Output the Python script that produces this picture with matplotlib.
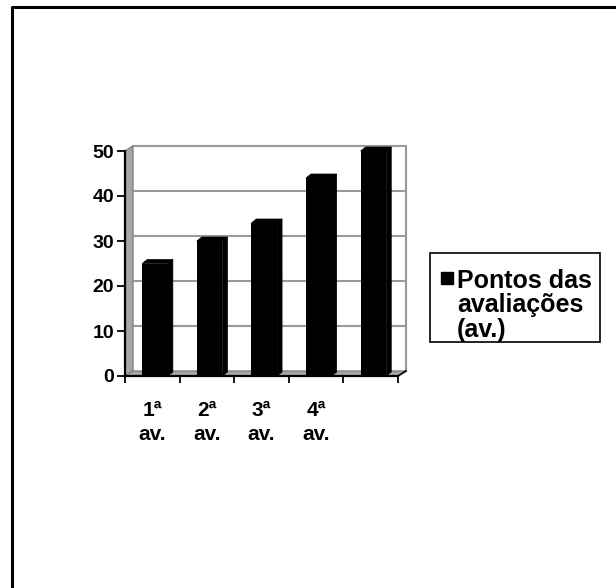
import matplotlib
matplotlib.use("Agg")
import matplotlib.pyplot as plt
from matplotlib.patches import Polygon, Rectangle
from matplotlib.lines import Line2D

# dados do gráfico
categorias = ["1ª\nav.", "2ª\nav.", "3ª\nav.", "4ª\nav.", ""]
pontos = [25, 30, 34, 44, 50]
serie = "Pontos das\navaliações\n(av.)"
y_ticks = [0, 10, 20, 30, 40, 50]

plt.rcParams['font.family'] = ['Liberation Sans', 'DejaVu Sans']
plt.rcParams['font.weight'] = 'bold'

W, H = 616, 588
fig = plt.figure(figsize=(W / 100, H / 100), dpi=100)

# área do gráfico em pixels
left, right, top, bottom = 125, 398, 151, 376
ax = fig.add_axes([left / W, 1 - bottom / H, (right - left) / W, (bottom - top) / H])
n = len(pontos)
ax.set_xlim(0, n)
ax.set_ylim(0, 50)

px_x = (right - left) / n
px_y = (bottom - top) / 50.0
# profundidade das paredes (efeito 3D)
dx, dy = 8 / px_x, 5 / px_y
# profundidade das barras
bdx, bdy = 5 / px_x, 4 / px_y

for s in ['top', 'right', 'bottom', 'left']:
    ax.spines[s].set_visible(False)

# parede esquerda e piso
ax.add_patch(Polygon([(0, 0), (dx, dy), (dx, 50 + dy), (0, 50)], closed=True,
                     facecolor='#a6a6a6', edgecolor='#808080', lw=1, clip_on=False, zorder=1))
ax.add_patch(Polygon([(0, 0), (dx, dy), (n + dx, dy), (n, 0)], closed=True,
                     facecolor='#a6a6a6', edgecolor='#808080', lw=1, clip_on=False, zorder=1))

# linhas de grade na parede de fundo
for t in y_ticks[1:]:
    ax.plot([dx, n + dx], [t + dy, t + dy], color='#999999', lw=1.5, clip_on=False, zorder=0.5)
ax.plot([n + dx, n + dx], [dy, 50 + dy], color='#999999', lw=1.5, clip_on=False, zorder=0.5)
ax.plot([n, n + dx], [0, dy], color='black', lw=1.2, clip_on=False, zorder=3)

# barras
xs = [i + 0.5 for i in range(n)]
w = 0.47
off = 0.05
bars = ax.bar([x + off for x in xs], pontos, width=w, color='black', zorder=4, clip_on=False)
for b in bars:
    x0, h = b.get_x(), b.get_height()
    x1 = x0 + w
    ax.add_patch(Polygon([(x0, h), (x1, h), (x1 + bdx, h + bdy), (x0 + bdx, h + bdy)],
                         closed=True, facecolor='black', edgecolor='black', lw=0.5,
                         clip_on=False, zorder=4))
    ax.add_patch(Polygon([(x1, 0), (x1 + bdx, bdy), (x1 + bdx, h + bdy), (x1, h)],
                         closed=True, facecolor='black', edgecolor='black', lw=0.5,
                         clip_on=False, zorder=4))

# eixos
ax.plot([0, 0], [0, 50], color='black', lw=1.6, clip_on=False, zorder=5)
ax.plot([0, n], [0, 0], color='black', lw=1.6, clip_on=False, zorder=5)

ax.set_yticks(y_ticks)
ax.tick_params(axis='y', direction='out', length=6, width=1.3, pad=2, labelsize=14)
ax.set_xticks(range(n + 1))
ax.set_xticklabels([])
ax.tick_params(axis='x', which='major', direction='out', length=5, width=1.3)
ax.set_xticks(xs, minor=True)
ax.set_xticklabels(categorias, minor=True, linespacing=1.3)
ax.tick_params(axis='x', which='minor', length=0, pad=18, labelsize=15)
for lbl in ax.get_xticklabels(minor=True) + ax.get_yticklabels():
    lbl.set_fontweight('bold')

# legenda
lx0, ly0, lx1, ly1 = 430, 253, 600, 342
fig.patches.append(Rectangle((lx0 / W, 1 - ly1 / H), (lx1 - lx0) / W, (ly1 - ly0) / H,
                             transform=fig.transFigure, facecolor='white',
                             edgecolor='black', lw=1.2))
fig.patches.append(Rectangle((441 / W, 1 - 284 / H), 12 / W, 12 / H,
                             transform=fig.transFigure, facecolor='black', edgecolor='black'))
fig.text(457 / W, 1 - 269 / H, serie, fontsize=18, fontweight='bold', va='top', ha='left',
         linespacing=1.02)

# moldura externa
fig.lines.append(Line2D([12 / W, 12 / W, 1.0], [0.0, 1 - 7 / H, 1 - 7 / H],
                        transform=fig.transFigure, color='black', lw=2.2))

fig.savefig("out.png", dpi=100)
